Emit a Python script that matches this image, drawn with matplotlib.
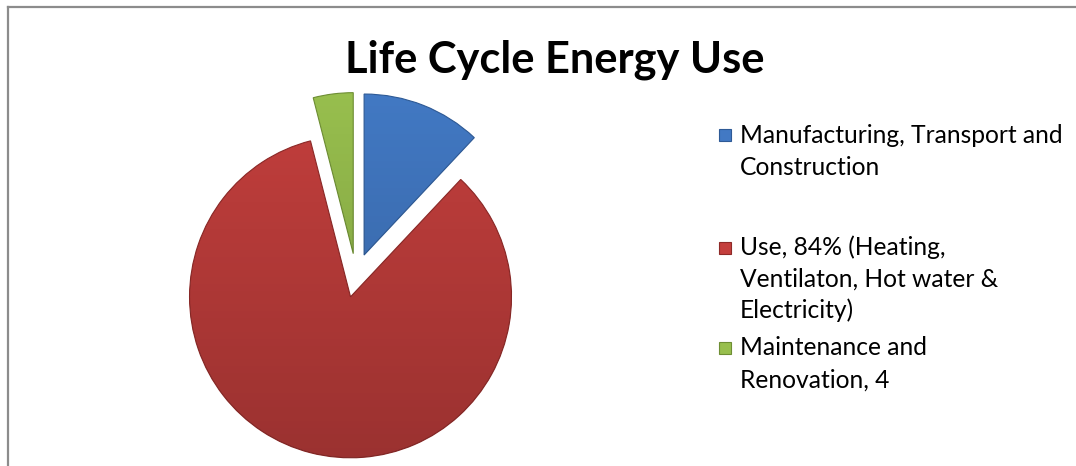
import matplotlib
matplotlib.use('Agg')
import matplotlib.pyplot as plt
import numpy as np
from matplotlib.patches import Rectangle
from matplotlib.lines import Line2D
from matplotlib.colors import LinearSegmentedColormap

# ---- data ----
title = "Life Cycle Energy Use"
categories = ["Manufacturing, Transport and Construction",
              "Use, 84% (Heating, Ventilaton, Hot water & Electricity)",
              "Maintenance and Renovation, 4"]
legend_lines = [["Manufacturing, Transport and", "Construction"],
                ["Use, 84% (Heating,", "Ventilaton, Hot water &", "Electricity)"],
                ["Maintenance and", "Renovation, 4"]]
values = [12, 84, 4]
colors = ["#4279C4", "#C43F3D", "#98BF4E"]
edge_colors = ["#2E5A96", "#8E2A28", "#6E8E34"]

W, H = 1076, 466
fig = plt.figure(figsize=(W / 100, H / 100), dpi=100)
fig.patch.set_facecolor('white')
ax = fig.add_axes([0, 0, 1, 1])

FONT = ['Lato', 'DejaVu Sans']

cx, cy, R = 356, H - 275.5, 161
EXPL = 22  # pixels (pie explode is in data units here)
wedges, _ = ax.pie(values, colors=colors, startangle=90, counterclock=False,
                   explode=[EXPL] * len(values), center=(cx, cy), radius=R,
                   wedgeprops=dict(linewidth=0.8))
for w, ec in zip(wedges, edge_colors):
    w.set_edgecolor(ec)

# subtle vertical shading (darker toward bottom) clipped to each wedge
grad = np.linspace(0, 1, 256).reshape(-1, 1)
shade = LinearSegmentedColormap.from_list('shade', [(0, 0, 0, 0.0), (0, 0, 0, 0.22)])
for w in wedges:
    im = ax.imshow(grad, extent=[180, 530, H - 470, H - 85], origin='upper',
                   cmap=shade, aspect='auto', zorder=w.get_zorder() + 0.1,
                   interpolation='bilinear')
    im.set_clip_path(w)

ax.set_xlim(0, W)
ax.set_ylim(0, H)
ax.set_aspect('equal')
ax.axis('off')

# border (cropped chart frame)
fig.add_artist(Line2D([8 / W, 8 / W], [0, 1 - 6.5 / H], transform=fig.transFigure,
                      color='#8C8C8C', lw=1.6))
fig.add_artist(Line2D([8 / W, 1], [1 - 6.5 / H, 1 - 6.5 / H], transform=fig.transFigure,
                      color='#8C8C8C', lw=1.6))

renderer = fig.canvas.get_renderer()

def fit_text(x, y, s, target_w, size0, **kw):
    t = fig.text(x / W, 1 - y / H, s, fontsize=size0, family=FONT, **kw)
    w = t.get_window_extent(renderer).width
    t.set_fontsize(size0 * target_w / w)
    return t

# title
tt = fit_text(555, 73, title, 420, 28, fontweight='bold', ha='center', va='baseline')

# legend
ref = fit_text(740, 143, legend_lines[0][0], 322, 17, ha='left', va='baseline')
fs = ref.get_fontsize()
baselines = [[143, 175], [255, 287, 318], [355, 388]]
marker_y = [135, 248, 348]
for i, (lines, bls) in enumerate(zip(legend_lines, baselines)):
    for j, (ln, bl) in enumerate(zip(lines, bls)):
        if i == 0 and j == 0:
            continue
        fig.text(740 / W, 1 - bl / H, ln, fontsize=fs, family=FONT,
                 ha='left', va='baseline')
    s = 12
    ax.add_patch(Rectangle((725 - s / 2, H - marker_y[i] - s / 2), s, s,
                           facecolor=colors[i], edgecolor=edge_colors[i], lw=0.8))

fig.savefig('out.png', dpi=100, facecolor='white')
